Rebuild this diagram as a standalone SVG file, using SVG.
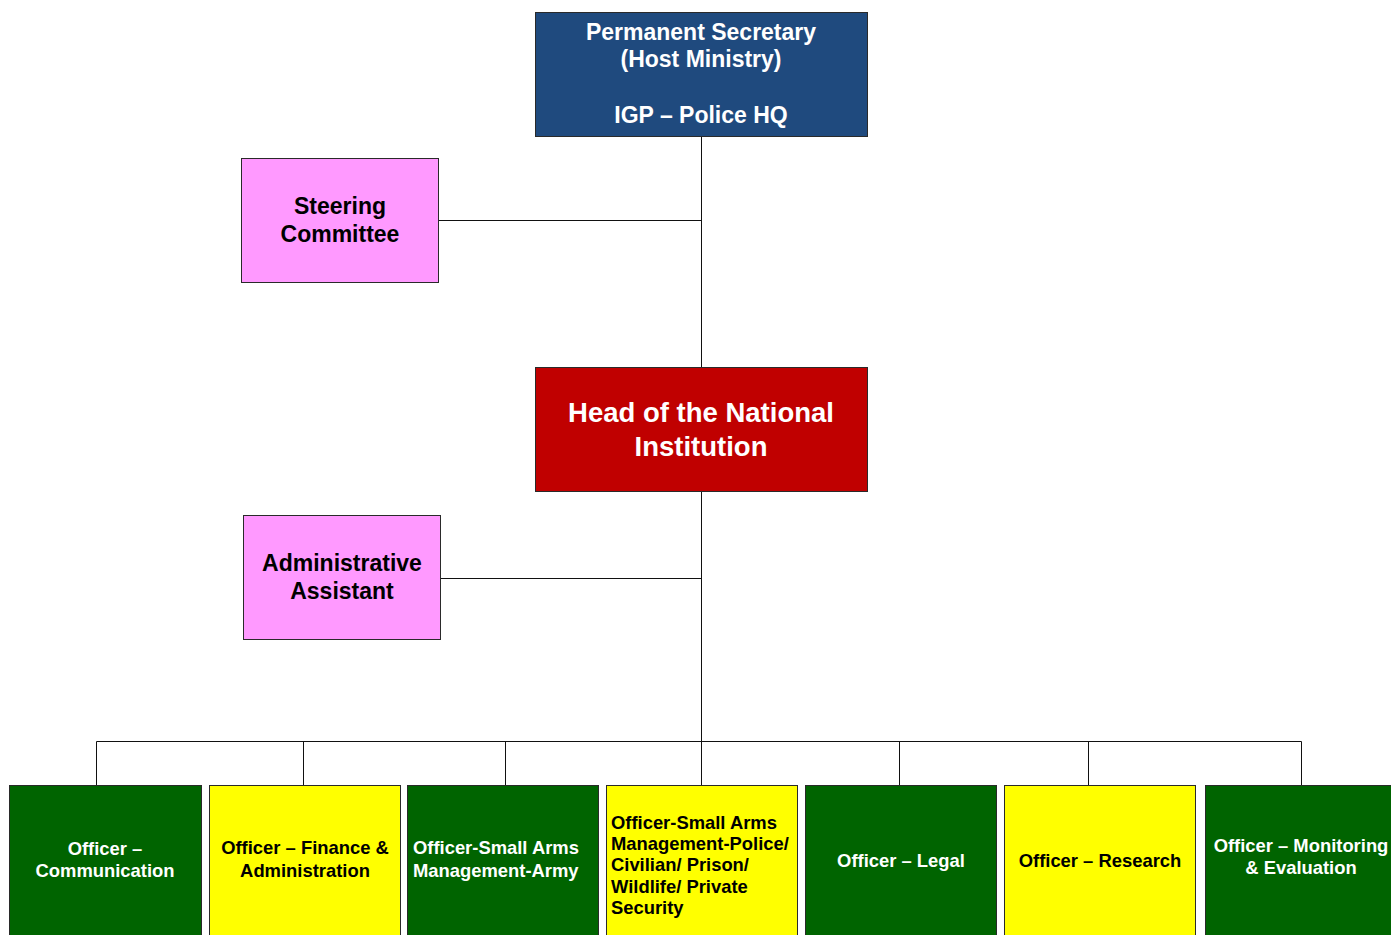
<svg xmlns="http://www.w3.org/2000/svg" width="1391" height="935" viewBox="0 0 1391 935">
  <style>
    .box { stroke: #2a2a2a; stroke-width: 1; }
    .navy { fill: #1f4a7e; }
    .red { fill: #c00000; }
    .pink { fill: #ff99ff; }
    .green { fill: #006400; }
    .yellow { fill: #ffff00; }
    text { font-family: "Liberation Sans", Arial, sans-serif; font-weight: bold; }
    .w { fill: #ffffff; }
    .k { fill: #000000; }
    .c { text-anchor: middle; }
    .link { stroke: #111; stroke-width: 1; fill: none; }
  </style>

  <!-- connectors -->
  <g id="connectors">
    <line class="link" x1="701.5" y1="137" x2="701.5" y2="741"/>
    <line class="link" x1="439" y1="220.5" x2="701.5" y2="220.5"/>
    <line class="link" x1="441" y1="578.5" x2="701.5" y2="578.5"/>
    <polyline class="link" points="96.5,785 96.5,741.5 1301.5,741.5 1301.5,785"/>
    <line class="link" x1="303.5" y1="741.5" x2="303.5" y2="785"/>
    <line class="link" x1="505.5" y1="741.5" x2="505.5" y2="785"/>
    <line class="link" x1="701.5" y1="741.5" x2="701.5" y2="785"/>
    <line class="link" x1="899.5" y1="741.5" x2="899.5" y2="785"/>
    <line class="link" x1="1088.5" y1="741.5" x2="1088.5" y2="785"/>
  </g>

  <g id="permanent-secretary">
    <rect class="box navy" x="535.5" y="12.5" width="332" height="124"/>
    <text class="w c" font-size="23" x="701" y="40">Permanent Secretary</text>
    <text class="w c" font-size="23" x="701" y="67">(Host Ministry)</text>
    <text class="w c" font-size="23" x="701" y="123">IGP – Police HQ</text>
  </g>

  <g id="steering-committee">
    <rect class="box pink" x="241.5" y="158.5" width="197" height="124"/>
    <text class="k c" font-size="23" x="340" y="214">Steering</text>
    <text class="k c" font-size="23" x="340" y="242">Committee</text>
  </g>

  <g id="head">
    <rect class="box red" x="535.5" y="367.5" width="332" height="124"/>
    <text class="w c" font-size="27.5" x="701" y="422">Head of the National</text>
    <text class="w c" font-size="27.5" x="701" y="456">Institution</text>
  </g>

  <g id="admin-assistant">
    <rect class="box pink" x="243.5" y="515.5" width="197" height="124"/>
    <text class="k c" font-size="23" x="342" y="571">Administrative</text>
    <text class="k c" font-size="23" x="342" y="599">Assistant</text>
  </g>

  <g id="officer-communication">
    <rect class="box green" x="9.5" y="785.5" width="192" height="160"/>
    <text class="w c" font-size="18.4" x="105" y="855">Officer –</text>
    <text class="w c" font-size="18.4" x="105" y="877">Communication</text>
  </g>

  <g id="officer-finance">
    <rect class="box yellow" x="209.5" y="785.5" width="191" height="160"/>
    <text class="k c" font-size="18.4" x="305" y="854">Officer – Finance &amp;</text>
    <text class="k c" font-size="18.4" x="305" y="877">Administration</text>
  </g>

  <g id="officer-army">
    <rect class="box green" x="407.5" y="785.5" width="191" height="160"/>
    <text class="w" font-size="18.4" x="413" y="854">Officer-Small Arms</text>
    <text class="w" font-size="18.4" x="413" y="877">Management-Army</text>
  </g>

  <g id="officer-police">
    <rect class="box yellow" x="606.5" y="785.5" width="191" height="160"/>
    <text class="k" font-size="18.4" x="611" y="829">Officer-Small Arms</text>
    <text class="k" font-size="18.4" x="611" y="850">Management-Police/</text>
    <text class="k" font-size="18.4" x="611" y="871">Civilian/ Prison/</text>
    <text class="k" font-size="18.4" x="611" y="893">Wildlife/ Private</text>
    <text class="k" font-size="18.4" x="611" y="914">Security</text>
  </g>

  <g id="officer-legal">
    <rect class="box green" x="805.5" y="785.5" width="191" height="160"/>
    <text class="w c" font-size="18.4" x="901" y="867">Officer – Legal</text>
  </g>

  <g id="officer-research">
    <rect class="box yellow" x="1004.5" y="785.5" width="191" height="160"/>
    <text class="k c" font-size="18.4" x="1100" y="867">Officer – Research</text>
  </g>

  <g id="officer-monitoring">
    <rect class="box green" x="1205.5" y="785.5" width="200" height="160"/>
    <text class="w c" font-size="18.4" x="1301" y="852">Officer – Monitoring</text>
    <text class="w c" font-size="18.4" x="1301" y="874">&amp; Evaluation</text>
  </g>
</svg>
